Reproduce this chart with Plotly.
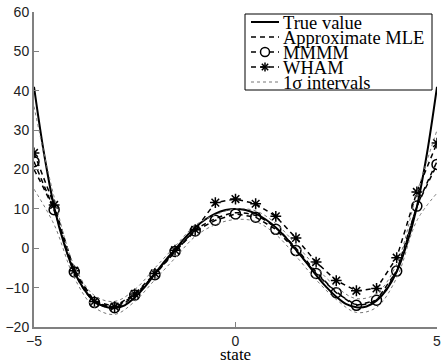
import plotly.graph_objects as go

# grid for estimates
x_est = [-5, -4.5, -4, -3.5, -3, -2.5, -2, -1.5, -1, -0.5, 0,
         0.5, 1, 1.5, 2, 2.5, 3, 3.5, 4, 4.5, 5]
# true value (finer grid)
x_true = [-5, -4.75, -4.5, -4.25, -4, -3.75, -3.5, -3.25, -3, -2.75, -2.5,
          -2.25, -2, -1.75, -1.5, -1.25, -1, -0.75, -0.5, -0.25, 0,
          0.25, 0.5, 0.75, 1, 1.25, 1.5, 1.75, 2, 2.25, 2.5, 2.75, 3,
          3.25, 3.5, 3.75, 4, 4.25, 4.5, 4.75, 5]
y_true = [41, 24, 10.5, 1, -6, -10.5, -13.5, -14.8, -15.2, -14.5, -12.5,
          -9.8, -6.5, -3.2, -0.3, 2.7, 5.3, 7.3, 8.8, 9.7, 10,
          9.7, 8.8, 7.3, 5.3, 2.7, -0.4, -3.5, -6.8, -9.8, -12.3, -14.2, -15.0,
          -14.8, -13.3, -10.5, -6, 1, 10.5, 24, 41]
y_mle = [20, 9.5, -6, -13.5, -15, -12, -6.5, -1, 4.5, 7.5, 9,
         8.3, 5.2, 0, -6, -11, -14.3, -13, -5.5, 10.5, 22]
y_mmmm = [22, 9.8, -6, -13.8, -15.1, -11.9, -6.7, -0.8, 4.4, 7.1, 8.7,
          7.9, 4.8, -0.6, -6.4, -11.3, -14.5, -13.2, -5.8, 10.7, 21.3]
y_wham = [24.2, 11, -5.7, -13.5, -14.8, -11.6, -6.4, -0.5, 4.7, 11.6, 12.5,
          11.3, 8.1, 2.6, -3.5, -8.2, -10.8, -10.2, -2.4, 14.3, 26.7]
y_up = [36, 13, -4.5, -12, -13.5, -10.5, -5, 0.5, 5.8, 8.5, 10,
        9.5, 6.3, 1, -4.8, -9.8, -12.8, -11.5, -4, 14, 30]
y_lo = [15, 6, -7.5, -15, -16.8, -13.5, -8, -2.5, 3, 6, 7.3,
        6.8, 3.5, -2, -8, -13, -16.3, -15, -7.5, 7, 14]

x_ticks = [-5, 0, 5]
y_ticks = [-20, -10, 0, 10, 20, 30, 40, 50, 60]
y_ticklabels = ["\u221220", "\u221210", "0", "10", "20", "30", "40", "50", "60"]
x_ticklabels = ["\u22125", "0", "5"]
legend_names = ["True value", "Approximate MLE", "MMMM", "WHAM", "1\u03c3 intervals"]

DASH = "5px,4px"
fig = go.Figure()
fig.add_trace(go.Scatter(x=x_true, y=y_true, mode="lines", name=legend_names[0],
                         line=dict(color="black", width=2, shape="spline")))
fig.add_trace(go.Scatter(x=x_est, y=y_mle, mode="lines", name=legend_names[1],
                         line=dict(color="black", width=1.5, dash=DASH, shape="spline")))
fig.add_trace(go.Scatter(x=x_est, y=y_mmmm, mode="lines+markers", name=legend_names[2],
                         line=dict(color="black", width=1.5, dash=DASH),
                         marker=dict(symbol="circle-open", size=10, color="black",
                                     line=dict(width=1.5, color="black"))))
fig.add_trace(go.Scatter(x=x_est, y=y_wham, mode="lines+markers", name=legend_names[3],
                         line=dict(color="black", width=1.5, dash=DASH),
                         marker=dict(symbol="asterisk-open", size=9, color="black",
                                     line=dict(width=1.5, color="black"))))
fig.add_trace(go.Scatter(x=x_est, y=y_up, mode="lines", name=legend_names[4],
                         line=dict(color="#777777", width=1, dash="dot", shape="spline")))
fig.add_trace(go.Scatter(x=x_est, y=y_lo, mode="lines",
                         line=dict(color="#777777", width=1, dash="dot", shape="spline")))

# ---- manual legend (paper coordinates) ----
W, H = 446, 364
L, R, T, B = 34, 9, 12, 37
pw, ph = W - L - R, H - T - B
def px(xp):
    return (xp - L) / pw
def py(yp):
    return (H - B - yp) / ph

shapes = [dict(type="rect", xref="paper", yref="paper",
               x0=px(245), x1=px(432), y0=py(90), y1=py(14),
               line=dict(color="black", width=1), fillcolor="white", layer="above")]
annotations = []
row_y = [22, 37, 52, 67, 82]
styles = [dict(color="black", width=2),
          dict(color="black", width=1.5, dash=DASH),
          dict(color="black", width=1.5, dash=DASH),
          dict(color="black", width=1.5, dash=DASH),
          dict(color="#777777", width=1, dash="dot")]
for name, yy, st in zip(legend_names, row_y, styles):
    shapes.append(dict(type="line", xref="paper", yref="paper",
                       x0=px(251), x1=px(279), y0=py(yy), y1=py(yy),
                       line=st, layer="above"))
    annotations.append(dict(text=name, xref="paper", yref="paper",
                            x=px(281), y=py(yy + 1), xanchor="left", yanchor="middle",
                            showarrow=False,
                            font=dict(family="Liberation Serif", size=18.5, color="black")))
# legend symbol: open circle (MMMM)
cx, cy, r = 265, 52, 4.5
shapes.append(dict(type="circle", xref="paper", yref="paper",
                   x0=px(cx - r), x1=px(cx + r), y0=py(cy + r), y1=py(cy - r),
                   line=dict(color="black", width=1.5), fillcolor="white", layer="above"))
# legend symbol: asterisk (WHAM)
cx, cy, r = 265, 67, 4.5
d = r * 0.707
for (dx, dy) in [(r, 0), (0, r), (d, d), (d, -d)]:
    shapes.append(dict(type="line", xref="paper", yref="paper",
                       x0=px(cx - dx), x1=px(cx + dx), y0=py(cy - dy), y1=py(cy + dy),
                       line=dict(color="black", width=1.5), layer="above"))

annotations.append(dict(text="state", xref="paper", yref="paper", x=0.5, y=py(355),
                        xanchor="center", yanchor="middle", showarrow=False,
                        font=dict(family="Liberation Serif", size=17, color="black")))

axis_common = dict(showgrid=False, zeroline=False, showline=True, linecolor="#808080",
                   linewidth=2, ticks="inside", ticklen=5, tickcolor="#808080", tickwidth=1,
                   tickfont=dict(family="Liberation Sans", size=14, color="#222222"),
                   mirror=False, automargin=False)
fig.update_xaxes(range=[-5, 5], tickvals=x_ticks, ticktext=x_ticklabels, **axis_common)
fig.update_yaxes(range=[-20, 60], tickvals=y_ticks, ticktext=y_ticklabels, **axis_common)

fig.update_layout(
    width=W, height=H,
    margin=dict(l=L, r=R, t=T, b=B),
    paper_bgcolor="white", plot_bgcolor="white",
    showlegend=False,
    shapes=shapes, annotations=annotations,
)
fig.write_html("out.html", config={"displayModeBar": False},
               post_script="document.body.style.margin='0';")
